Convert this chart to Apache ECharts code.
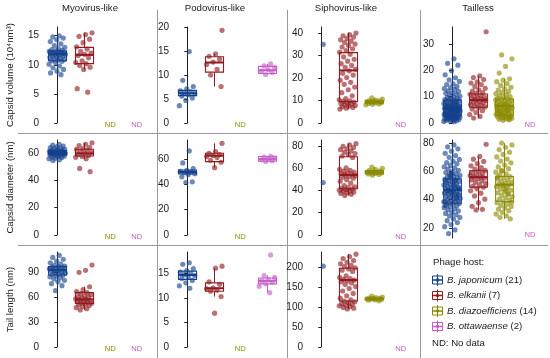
<!DOCTYPE html>
<html><head><meta charset="utf-8">
<script src="https://cdn.jsdelivr.net/npm/echarts@6/dist/echarts.min.js"></script>
<style>html,body{margin:0;padding:0;background:#fff}#c{width:550px;height:358px}</style>
</head><body><div id="c"></div>
<script>
// ---------------- data ----------------
const morphotypes = ['Myovirus-like','Podovirus-like','Siphovirus-like','Tailless'];
const measures = ['Capsid volume (10⁴nm³)','Capsid diameter (nm)','Tail length (nm)'];
const hosts = ['B. japonicum','B. elkanii','B. diazoefficiens','B. ottawaense'];
const hostCounts = [21,7,14,2];
const ndLabel = 'ND';
const ndNote = 'ND: No data';
const legendTitle = 'Phage host:';

// tick labels
const ticksVolMyo = [0,5,10,15];
const ticksVolPodo = [0,5,10,15,20];
const ticksVolSipho = [0,10,20,30,40];
const ticksVolTail = [0,10,20,30];
const ticksDiaMyo = [0,20,40,60];
const ticksDiaPodo = [0,20,40,60];
const ticksDiaSipho = [0,20,40,60,80];
const ticksDiaTail = [20,40,60,80];
const ticksTailMyo = [0,30,60,90];
const ticksTailPodo = [0,5,10,15];
const ticksTailSipho = [0,50,100,150,200];

// capsid volume points
const volMyoJap = [15.0,14.8,14.6,14.3,14.0,13.6,13.3,13.0,12.8,12.6,12.5,12.4,12.3,12.2,12.1,12.0,12.0,11.9,11.9,11.8,11.8,11.7,11.6,11.5,11.4,11.3,11.1,11.0,10.9,10.8,10.7,10.6,10.4,10.1,9.8,9.5,9.2,8.9,8.6,8.3];
const volMyoElk = [15.5,15.2,14.9,14.4,13.8,13.1,12.7,12.3,12.0,11.8,11.6,11.2,10.7,10.4,10.2,9.9,9.6,9.2,5.9,5.3];
const volPodoJap = [14.9,8.9,7.6,7.1,6.7,6.5,6.3,6.1,5.9,5.6,5.2,4.7,3.6];
const volPodoElk = [19.3,14.4,13.9,13.3,12.7,12.2,11.2,10.0,7.6];
const volPodoOtt = [12.3,11.9,11.5,11.1,10.8,10.5,10.1];
const volSiphoJap = [35.0];
const volSiphoElk = [40.0,39.3,38.8,38.2,37.6,37.0,36.4,35.8,35.1,34.5,33.8,33.0,32.2,31.5,30.6,29.4,28.3,27.5,26.4,25.6,24.8,23.9,23.2,22.1,21.3,20.2,19.0,18.1,17.2,16.0,14.8,13.5,12.1,10.8,10.3,9.9,9.6,9.3,9.0,8.7,8.4,8.1,7.8,7.5,7.2,6.9,6.6,6.2];
const volSiphoDia = [11.2,10.6,10.2,10.0,9.8,9.6,9.5,9.3,9.2,9.0,8.9,8.7,8.5,8.3,8.1];
const volTailJap = [24.4,22.7,22.0,19.9,18.3,17.2,16.4,15.8,14.9,14.6,13.9,13.5,13.1,12.8,12.2,12.0,11.5,11.3,10.9,10.4,10.2,9.8,9.7,9.3,9.1,8.9,8.7,8.6,8.4,8.1,8.0,7.8,7.5,7.4,7.2,7.1,6.9,6.8,6.6,6.5,6.3,6.2,6.1,5.9,5.8,5.8,5.6,5.5,5.4,5.2,5.1,5.0,4.9,4.7,4.6,4.5,4.4,4.3,4.1,4.0,3.9,3.8,3.7,3.5,3.4,3.3,3.2,3.1,2.9,2.8,2.7,2.7,2.6,2.4,2.3,2.2,2.1,2.0,1.9,1.8,1.6,1.5,1.4,1.3,1.1,1.0,0.9,0.8,0.6,0.5,6.4,5.3,4.8,3.6,7.7,2.5,6.0,5.7,3.0,4.2];
const volTailElk = [34.7,17.9,17.3,16.5,15.6,15.2,14.6,13.9,13.2,12.6,12.1,11.6,11.2,10.9,10.5,10.1,9.8,9.5,9.2,9.0,8.8,8.6,8.3,8.0,7.7,7.4,7.0,6.7,6.4,6.1,5.8,5.3,4.7,4.0,3.2,2.5,1.9];
const volTailDia = [25.9,24.4,21.5,19.0,16.8,16.3,15.7,15.0,14.3,13.6,13.0,12.5,12.0,11.6,11.2,10.8,10.4,10.0,9.7,9.4,9.1,8.9,8.6,8.4,8.1,7.9,7.7,7.5,7.3,7.0,6.8,6.6,6.5,6.3,6.1,5.9,5.7,5.5,5.3,5.1,4.9,4.7,4.5,4.3,4.1,3.9,3.7,3.5,3.3,3.1,2.9,2.8,2.6,2.4,2.2,2.0,1.8,1.6,1.4,1.2,1.0,6.2,5.0,3.6,2.5,7.1,4.4,1.5,3.0,8.8];

// capsid diameter points
const diaMyoJap = [66.5,65.8,65.2,64.6,64.0,63.5,63.1,62.7,62.3,62.0,61.8,61.5,61.2,61.0,60.8,60.6,60.4,60.3,60.1,60.0,59.8,59.6,59.4,59.2,59.0,58.8,58.5,58.2,57.9,57.6,57.2,56.8,56.3,55.8,55.2,54.6];
const diaMyoElk = [67.5,66.4,65.5,64.2,63.3,62.8,62.2,61.4,60.5,59.8,59.1,58.3,57.6,56.9,55.8,48.8,46.4];
const diaPodoJap = [66.5,57.0,52.4,51.2,50.3,49.8,49.2,48.5,47.9,46.0,42.0,41.5];
const diaPodoElk = [72.5,66.0,64.5,63.6,62.8,62.0,61.2,59.0,57.5,53.2];
const diaPodoOtt = [62.3,61.6,60.9,60.2,59.5,58.7,58.1];
const diaSiphoJap = [47.0];
const diaSiphoElk = [82.0,80.8,79.6,78.5,77.3,76.5,75.4,74.2,73.1,72.0,70.8,69.5,60.2,58.9,58.0,57.2,56.5,55.8,55.1,54.5,53.9,53.2,52.6,51.8,50.9,49.6,48.2,46.5,44.3,43.1,42.4,41.8,41.2,40.7,40.2,39.7,39.2,38.6,38.0,37.3,36.5,35.4];
const diaSiphoDia = [61.0,59.8,58.6,57.9,57.3,56.9,56.5,56.2,55.9,55.6,55.2,54.8,54.3,53.6];
const diaTailJap = [78.5,77.2,75.8,74.1,72.6,71.0,69.8,68.3,67.1,66.0,65.2,64.1,63.0,62.2,61.5,60.6,59.8,59.0,58.3,57.7,57.0,56.4,55.9,55.3,54.8,54.2,53.6,53.1,52.7,52.2,51.6,51.1,50.7,50.2,49.8,49.3,48.8,48.4,47.9,47.5,47.1,46.8,46.4,45.9,45.5,45.0,44.6,44.1,43.7,43.2,42.8,42.3,41.9,41.4,40.9,40.5,40.0,39.6,39.1,38.7,38.2,37.8,37.3,36.8,36.2,35.6,35.0,34.3,33.5,32.8,32.0,31.1,30.2,29.3,28.4,27.4,26.3,25.1,23.8,22.4,20.9,18.6,16.0,48.0,44.9,52.9,41.0,56.7,38.4,50.0,46.1,43.5,58.1,35.9,53.4];
const diaTailElk = [79.0,70.4,68.5,66.9,65.3,63.8,62.5,61.4,60.6,59.8,59.0,58.3,57.6,56.9,56.3,55.8,55.2,54.6,53.9,53.1,52.2,51.3,50.4,49.5,48.7,47.6,46.2,44.5,42.6,40.3,37.8,35.2,33.1,32.7];
const diaTailDia = [79.8,78.5,76.9,75.2,73.4,71.8,70.1,68.6,67.2,65.9,64.3,63.0,61.8,60.5,59.3,58.2,57.1,56.2,55.4,54.6,53.8,53.0,52.3,51.6,50.9,50.4,49.8,49.1,48.3,47.5,46.6,45.7,44.8,43.9,43.0,42.1,41.2,40.3,39.4,38.6,37.8,36.9,36.0,35.1,34.2,33.2,32.1,31.0,29.8,28.6,27.5,26.4,50.1,55.8,44.2,60.0,38.1,47.0];

// tail length points
const tailMyoJap = [110.0,107.5,105.2,103.0,101.1,99.4,98.0,97.2,96.5,95.8,95.1,94.4,93.8,93.2,92.6,92.0,91.4,90.8,90.1,89.4,88.7,87.9,87.0,86.2,85.3,84.2,83.0,81.6,80.0,78.2,76.0,73.6,67.6];
const tailMyoElk = [98.4,92.0,89.6,72.3,68.8,66.5,65.2,64.0,62.8,61.5,60.4,59.5,58.6,57.8,57.2,56.5,55.8,55.1,54.4,53.7,53.0,52.4,51.6,50.7,49.6,48.5,47.2,45.9,44.4];
const tailPodoJap = [17.2,16.9,16.0,15.6,15.3,15.0,14.8,14.6,14.3,14.0,13.6,13.1,12.5,12.0];
const tailPodoElk = [16.5,16.1,13.3,12.8,12.1,11.9,11.6,11.4,10.3,6.9];
const tailPodoOtt = [18.8,14.6,14.2,13.8,13.5,13.2,12.9,12.4,11.1];
const tailSiphoJap = [202];
const tailSiphoElk = [232,226,221,216,212,208,204,201,198,195,192,189,178,174,171,169,167,165,163,160,156,151,146,140,134,128,122,118,115,113,111,109,107,105,103,101,99,97,95];
const tailSiphoDia = [127,125,123.5,122.5,121.5,121,120.5,120,119.5,119,118,117,115.5];

// box statistics [lower whisker, Q1, median, Q3, upper whisker]
const boxVolMyoJap = [8.3,10.7,11.9,12.4,15.0];
const boxVolMyoElk = [9.2,10.2,11.7,13.0,15.5];
const boxVolPodoJap = [4.7,5.7,6.2,6.8,7.6];
const boxVolPodoElk = [7.6,10.6,12.6,13.8,14.4];
const boxVolPodoOtt = [10.1,10.3,11.0,11.8,12.3];
const boxVolSiphoElk = [6.2,9.5,23.4,31.3,40.0];
const boxVolSiphoDia = [8.1,8.8,9.3,9.9,11.2];
const boxVolTailJap = [0.5,2.7,5.6,8.7,17.2];
const boxVolTailElk = [1.9,6.0,8.7,11.0,17.9];
const boxVolTailDia = [1.0,2.8,6.5,9.1,16.8];
const boxDiaMyoJap = [54.6,58.8,60.3,61.8,66.5];
const boxDiaMyoElk = [55.8,57.9,59.8,62.8,67.5];
const boxDiaPodoJap = [46.0,48.2,49.8,51.4,52.4];
const boxDiaPodoElk = [53.2,58.0,62.7,64.6,72.5];
const boxDiaPodoOtt = [58.1,58.3,60.0,62.0,62.3];
const boxDiaSiphoElk = [35.4,41.5,53.8,70.2,82.0];
const boxDiaSiphoDia = [53.6,54.7,56.2,57.7,61.0];
const boxDiaTailJap = [16.0,37.4,46.9,54.6,78.5];
const boxDiaTailElk = [32.7,48.8,55.8,60.3,70.4];
const boxDiaTailDia = [26.4,38.6,50.4,56.3,79.8];
const boxTailMyoJap = [73.6,86.4,92.4,96.4,110.0];
const boxTailMyoElk = [44.4,52.4,57.2,65.2,72.3];
const boxTailPodoJap = [12.0,13.8,14.7,15.5,17.2];
const boxTailPodoElk = [10.3,11.4,12.0,13.1,16.1];
const boxTailPodoOtt = [11.1,12.9,13.5,14.1,14.6];
const boxTailSiphoElk = [95,115,167.5,197,232];
const boxTailSiphoDia = [115.5,118.5,120.5,122,127];

// ---------------- layout / style ----------------
const hostColors = ['#13408C','#921A1E','#8A8A00','#C65CC6'];
const FF = '"Liberation Sans", Arial, sans-serif';
const FS = 9.6;
const TFS = 10;
const colLeft = [44,174,308,439], colW = [106,106,106,104];
const rowTop = [27,140,252], rowH = [96,95,95];

const panels = [
  {row:0,col:0,pts:[volMyoJap,volMyoElk,null,null],box:[boxVolMyoJap,boxVolMyoElk,null,null],ticks:ticksVolMyo,min:0,max:16.5},
  {row:0,col:1,pts:[volPodoJap,volPodoElk,null,volPodoOtt],box:[boxVolPodoJap,boxVolPodoElk,null,boxVolPodoOtt],ticks:ticksVolPodo,min:0,max:20},
  {row:0,col:2,pts:[volSiphoJap,volSiphoElk,volSiphoDia,null],box:[null,boxVolSiphoElk,boxVolSiphoDia,null],ticks:ticksVolSipho,min:0,max:42.7},
  {row:0,col:3,pts:[volTailJap,volTailElk,volTailDia,null],box:[boxVolTailJap,boxVolTailElk,boxVolTailDia,null],ticks:ticksVolTail,min:0,max:36.5},
  {row:1,col:0,pts:[diaMyoJap,diaMyoElk,null,null],box:[boxDiaMyoJap,boxDiaMyoElk,null,null],ticks:ticksDiaMyo,min:0,max:69.6},
  {row:1,col:1,pts:[diaPodoJap,diaPodoElk,null,diaPodoOtt],box:[boxDiaPodoJap,boxDiaPodoElk,null,boxDiaPodoOtt],ticks:ticksDiaPodo,min:0,max:75.1},
  {row:1,col:2,pts:[diaSiphoJap,diaSiphoElk,diaSiphoDia,null],box:[null,boxDiaSiphoElk,boxDiaSiphoDia,null],ticks:ticksDiaSipho,min:0,max:85.2},
  {row:1,col:3,pts:[diaTailJap,diaTailElk,diaTailDia,null],box:[boxDiaTailJap,boxDiaTailElk,boxDiaTailDia,null],ticks:ticksDiaTail,min:12.9,max:82,h:98,ndOff:-3},
  {row:2,col:0,pts:[tailMyoJap,tailMyoElk,null,null],box:[boxTailMyoJap,boxTailMyoElk,null,null],ticks:ticksTailMyo,min:0,max:114},
  {row:2,col:1,pts:[tailPodoJap,tailPodoElk,null,tailPodoOtt],box:[boxTailPodoJap,boxTailPodoElk,null,boxTailPodoOtt],ticks:ticksTailPodo,min:0,max:19.4},
  {row:2,col:2,pts:[tailSiphoJap,tailSiphoElk,tailSiphoDia,null],box:[null,boxTailSiphoElk,boxTailSiphoDia,null],ticks:ticksTailSipho,min:0,max:237.5}
];

function jitter(k, h) {
  const f = ((k + 1) * 0.6180339887 + h * 0.37) % 1;
  return (f - 0.5) * 0.64;
}

function renderBox(params, api) {
  const x = api.value(0);
  const lo = api.coord([x, api.value(1)]);
  const q1 = api.coord([x, api.value(2)]);
  const md = api.coord([x, api.value(3)]);
  const q3 = api.coord([x, api.value(4)]);
  const hi = api.coord([x, api.value(5)]);
  const w = api.size([0.68, 0])[0];
  const c = hostColors[x];
  const cx = Math.round(lo[0]) + 0.5;
  return {type:'group', children:[
    {type:'line', shape:{x1:cx,y1:hi[1],x2:cx,y2:q3[1]}, style:{stroke:c,lineWidth:1}},
    {type:'line', shape:{x1:cx,y1:q1[1],x2:cx,y2:lo[1]}, style:{stroke:c,lineWidth:1}},
    {type:'rect', shape:{x:cx-w/2,y:q3[1],width:w,height:q1[1]-q3[1]}, style:{stroke:c,fill:'none',lineWidth:1.1}},
    {type:'line', shape:{x1:cx-w/2,y1:md[1],x2:cx+w/2,y2:md[1]}, style:{stroke:c,lineWidth:2}}
  ]};
}

function makeNDRenderer(off) {
  return function (params, api) {
    const x = api.value(0);
    const p = api.coord([x, api.value(1)]);
    return {type:'text', x:p[0], y:p[1] + off,
      style:{text:ndLabel, fill:hostColors[x], fontSize:7.6, fontFamily:FF, align:'center', verticalAlign:'middle'}};
  };
}

const grids = [], xAxes = [], yAxes = [], series = [];
panels.forEach((p, gi) => {
  grids.push({left:colLeft[p.col], top:rowTop[p.row], width:colW[p.col], height:p.h || rowH[p.row]});
  xAxes.push({gridIndex:gi, type:'value', min:-0.5, max:3.5, show:false});
  yAxes.push({gridIndex:gi, type:'value', min:p.min, max:p.max,
    name: p.col === 0 ? measures[p.row] : '', nameLocation:'middle', nameGap:29, nameRotate:90,
    nameTextStyle:{fontSize:FS, color:'#1a1a1a', fontFamily:FF},
    axisLine:{show:true, lineStyle:{color:'#222', width:1}},
    axisTick:{show:true, length:3, lineStyle:{color:'#222'}, customValues:p.ticks},
    axisLabel:{color:'#1a1a1a', fontSize:TFS, fontFamily:FF, margin:5, customValues:p.ticks},
    splitLine:{show:false}});
  const boxData = [], ndData = [];
  p.pts.forEach((arr, h) => {
    if (!arr) { ndData.push([h, p.min]); return; }
    series.push({type:'scatter', xAxisIndex:gi, yAxisIndex:gi, symbolSize:5.2, silent:true, z:2,
      itemStyle:{color:hostColors[h], opacity:0.62},
      data: arr.map((v, k) => [h + jitter(k, h), v])});
    if (p.box[h]) boxData.push([h].concat(p.box[h]));
  });
  series.push({type:'custom', xAxisIndex:gi, yAxisIndex:gi, z:3, silent:true,
    renderItem:renderBox, encode:{x:0, y:[1,2,3,4,5]}, data:boxData});
  if (ndData.length) series.push({type:'custom', xAxisIndex:gi, yAxisIndex:gi, z:3, silent:true,
    renderItem:makeNDRenderer(p.ndOff !== undefined ? p.ndOff : 1.5), encode:{x:0, y:1}, data:ndData, clip:false});
});

// titles, separators, legend
const titleX = [90, 215, 346, 478];
const graphics = [];
morphotypes.forEach((m, i) => graphics.push({type:'text', x:titleX[i], y:8.5,
  style:{text:m, fill:'#1a1a1a', fontSize:FS, fontFamily:FF, align:'center', verticalAlign:'middle'}}));
[157, 287, 420].forEach(x => graphics.push({type:'line', shape:{x1:x+0.5,y1:10,x2:x+0.5,y2:358}, style:{stroke:'#9a9a9a',lineWidth:1}}));
[133, 245].forEach(y => graphics.push({type:'line', shape:{x1:18,y1:y+0.5,x2:548,y2:y+0.5}, style:{stroke:'#9a9a9a',lineWidth:1}}));
graphics.push({type:'text', x:433, y:262, style:{text:legendTitle, fill:'#1a1a1a', fontSize:FS, fontFamily:FF, verticalAlign:'middle'}});
const legY = [280, 295.5, 311, 326.5];
hosts.forEach((hname, i) => {
  const c = hostColors[i], y = legY[i], cx = 437.5;
  graphics.push({type:'line', shape:{x1:cx,y1:y-6,x2:cx,y2:y+6}, style:{stroke:c,lineWidth:1}});
  graphics.push({type:'rect', shape:{x:cx-5,y:y-4,width:10,height:8}, style:{stroke:c,fill:'#fff',lineWidth:1}});
  graphics.push({type:'line', shape:{x1:cx-5,y1:y,x2:cx+5,y2:y}, style:{stroke:c,lineWidth:1.5}});
  graphics.push({type:'line', shape:{x1:cx,y1:y-4,x2:cx,y2:y+4}, style:{stroke:c,lineWidth:1}});
  graphics.push({type:'circle', shape:{cx:cx,cy:y,r:1.8}, style:{fill:c,opacity:0.8}});
  graphics.push({type:'text', x:447, y:y, style:{text:'{i|' + hname + '} (' + hostCounts[i] + ')',
    rich:{i:{fontStyle:'italic', fontSize:FS, fontFamily:FF, fill:'#1a1a1a'}},
    fill:'#1a1a1a', fontSize:FS, fontFamily:FF, verticalAlign:'middle'}});
});
graphics.push({type:'text', x:432, y:343, style:{text:ndNote, fill:'#1a1a1a', fontSize:FS, fontFamily:FF, verticalAlign:'middle'}});

const chart = echarts.init(document.getElementById('c'));
chart.setOption({
  backgroundColor:'#fff',
  animation:false,
  textStyle:{fontFamily:FF},
  grid:grids, xAxis:xAxes, yAxis:yAxes, series:series,
  graphic:graphics
});
</script>
</body></html>
